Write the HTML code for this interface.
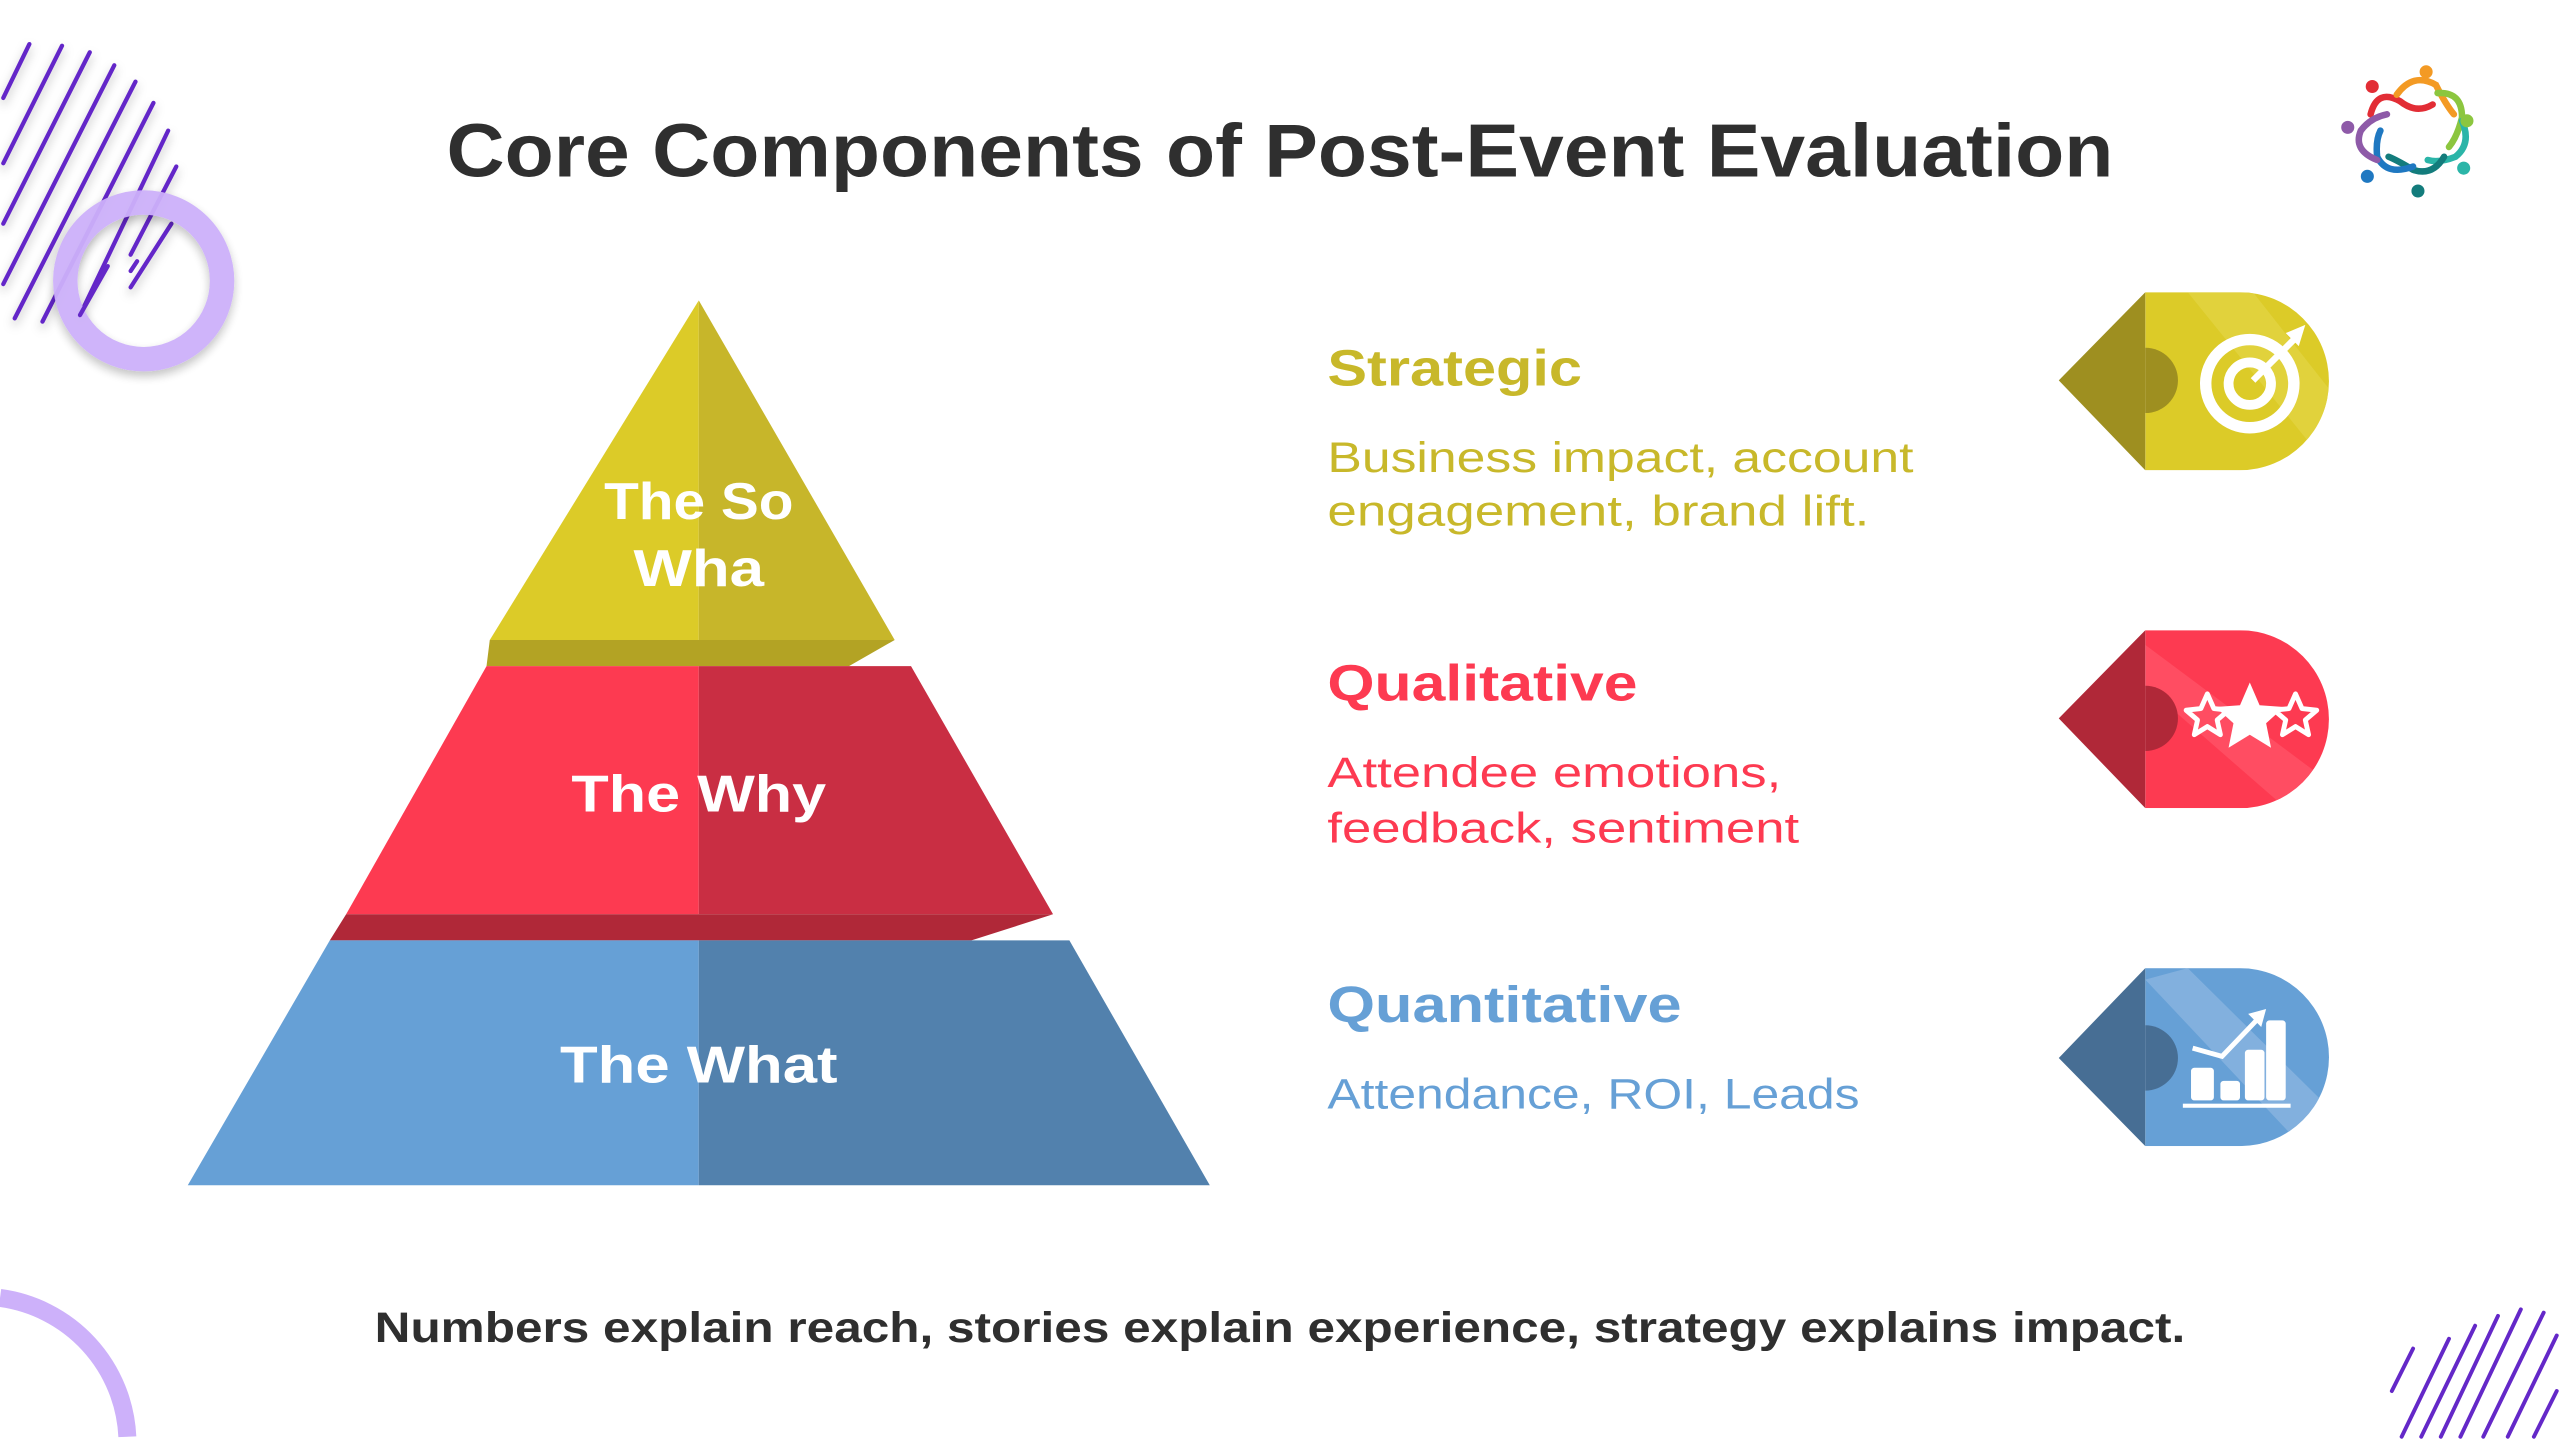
<!DOCTYPE html>
<html><head><meta charset="utf-8"><style>
html,body{margin:0;padding:0;background:#fff;width:2560px;height:1440px;overflow:hidden}
svg{display:block;overflow:hidden}
text{font-family:"Liberation Sans",sans-serif;font-weight:bold}
</style></head><body>
<svg width="2560" height="1440" viewBox="0 0 1568 882" xmlns="http://www.w3.org/2000/svg">
<defs>
<filter id="sh" x="-30%" y="-30%" width="160%" height="160%"><feDropShadow dx="0" dy="3" stdDeviation="3" flood-color="#000" flood-opacity="0.25"/></filter>
<clipPath id="cy"><path d="M1314 179 H1372 A54.5 54.5 0 0 1 1372 288 H1314 Z"/></clipPath>
<clipPath id="cr"><path d="M1314 386 H1372 A54.5 54.5 0 0 1 1372 495 H1314 Z"/></clipPath>
<clipPath id="cb"><path d="M1314 593 H1372 A54.5 54.5 0 0 1 1372 702 H1314 Z"/></clipPath>
</defs>
<!-- top-left decoration -->
<g stroke="#6428c8" stroke-width="2.6" stroke-linecap="round" filter="url(#sh)">
<line x1="18" y1="27" x2="2" y2="60"/>
<line x1="38" y1="28" x2="2" y2="100"/>
<line x1="55" y1="32" x2="2" y2="137"/>
<line x1="70" y1="40" x2="2" y2="174"/>
<line x1="83" y1="50" x2="9" y2="195"/>
<line x1="94" y1="63" x2="26" y2="197"/>
<line x1="103" y1="80" x2="49" y2="193"/>
<line x1="108" y1="102" x2="80" y2="156"/>
<line x1="105" y1="137" x2="80" y2="176"/>
</g>
<circle cx="88" cy="172" r="48" fill="none" stroke="#cdb1fa" stroke-width="15" filter="url(#sh)" opacity="0.95"/>
<g stroke="#6428c8" stroke-width="2.6" stroke-linecap="round">
<line x1="66" y1="163" x2="49" y2="193"/>
<line x1="84" y1="160" x2="80" y2="166"/>
</g>

<!-- bottom-left arc -->
<path d="M0 795 A90 90 0 0 1 78 880" fill="none" stroke="#cdb1fa" stroke-width="11"/>

<!-- bottom-right stripes -->
<g stroke="#6428c8" stroke-width="2.4" stroke-linecap="round">
<line x1="1478" y1="826" x2="1465" y2="852"/>
<line x1="1500" y1="820" x2="1471" y2="880"/>
<line x1="1516" y1="812" x2="1483" y2="880"/>
<line x1="1530" y1="806" x2="1495" y2="880"/>
<line x1="1544" y1="802" x2="1507" y2="880"/>
<line x1="1558" y1="804" x2="1521" y2="880"/>
<line x1="1566" y1="818" x2="1536" y2="880"/>
<line x1="1566" y1="852" x2="1552" y2="880"/>
</g>

<!-- logo -->
<g fill="none" stroke-width="4" stroke-linecap="round">
<path d="M1452 70 Q1456 54 1470 62 Q1480 70 1490 64" stroke="#e22d35"/>
<path d="M1468 58 Q1478 44 1492 52 Q1498 64 1503 70" stroke="#f39a24"/>
<path d="M1493 57 Q1508 56 1508 72 Q1505 84 1500 90" stroke="#8cc63f"/>
<path d="M1508 74 Q1514 88 1504 96 Q1494 100 1487 98" stroke="#2bb5a8"/>
<path d="M1497 96 Q1490 108 1478 104 Q1468 98 1463 96" stroke="#137c7c"/>
<path d="M1478 102 Q1462 108 1456 96 Q1455 86 1458 80" stroke="#1f78c1"/>
<path d="M1456 98 Q1441 92 1446 80 Q1452 72 1462 70" stroke="#8e5aa8"/>
</g>
<g>
<circle cx="1453" cy="53" r="4" fill="#e22d35"/>
<circle cx="1486" cy="44" r="4" fill="#f39a24"/>
<circle cx="1511" cy="74" r="4" fill="#8cc63f"/>
<circle cx="1509" cy="103" r="4" fill="#2bb5a8"/>
<circle cx="1481" cy="117" r="4" fill="#137c7c"/>
<circle cx="1450" cy="108" r="4" fill="#1f78c1"/>
<circle cx="1438" cy="78" r="4" fill="#8e5aa8"/>
</g>

<!-- title -->
<text x="784" y="108" text-anchor="middle" font-size="46" fill="#2f2f2f" textLength="1021" lengthAdjust="spacingAndGlyphs">Core Components of Post-Event Evaluation</text>

<!-- pyramid -->
<polygon points="428,184 428,392 300,392" fill="#dccb28"/>
<polygon points="428,184 548,392 428,392" fill="#c7b62a"/>
<polygon points="300,392 548,392 520,408 298,408" fill="#b3a324"/>
<polygon points="298,408 428,408 428,560 212,560" fill="#fd3a51"/>
<polygon points="428,408 558,408 645,560 428,560" fill="#c92e43"/>
<polygon points="212,560 645,560 595,576 202,576" fill="#b02838"/>
<polygon points="202,576 428,576 428,726 115,726" fill="#66a0d6"/>
<polygon points="428,576 655,576 741,726 428,726" fill="#5281ad"/>
<g fill="#fff" font-size="32" text-anchor="middle">
<text x="428" y="318" textLength="116" lengthAdjust="spacingAndGlyphs">The So</text>
<text x="428" y="359" textLength="80" lengthAdjust="spacingAndGlyphs">Wha</text>
<text x="428" y="497" textLength="156" lengthAdjust="spacingAndGlyphs">The Why</text>
<text x="428" y="663" textLength="170" lengthAdjust="spacingAndGlyphs">The What</text>
</g>

<!-- right texts -->
<text x="813" y="236" font-size="31" fill="#c8b82a" textLength="156" lengthAdjust="spacingAndGlyphs">Strategic</text>
<text x="813" y="289" font-size="26" style="font-weight:normal" fill="#c8b82a" textLength="359" lengthAdjust="spacingAndGlyphs">Business impact, account</text>
<text x="813" y="322" font-size="26" style="font-weight:normal" fill="#c8b82a" textLength="332" lengthAdjust="spacingAndGlyphs">engagement, brand lift.</text>
<text x="813" y="429" font-size="31" fill="#fd3a51" textLength="190" lengthAdjust="spacingAndGlyphs">Qualitative</text>
<text x="813" y="482" font-size="26" style="font-weight:normal" fill="#fd3a51" textLength="278" lengthAdjust="spacingAndGlyphs">Attendee emotions,</text>
<text x="813" y="516" font-size="26" style="font-weight:normal" fill="#fd3a51" textLength="289" lengthAdjust="spacingAndGlyphs">feedback, sentiment</text>
<text x="813" y="626" font-size="31" fill="#66a0d6" textLength="217" lengthAdjust="spacingAndGlyphs">Quantitative</text>
<text x="813" y="679" font-size="26" style="font-weight:normal" fill="#66a0d6" textLength="326" lengthAdjust="spacingAndGlyphs">Attendance, ROI, Leads</text>

<!-- icon 1 yellow -->
<polygon points="1261,233 1314,179 1314,288" fill="#9e8f20"/>
<g clip-path="url(#cy)">
<rect x="1310" y="175" width="120" height="117" fill="#dccb28"/>
<polygon points="1340,179 1380,179 1428,240 1428,288" fill="#e3d444" opacity="0.7"/>
</g>
<path d="M1314 213 A20 20 0 0 1 1314 253 Z" fill="#9e8f20"/>
<g fill="none" stroke="#fff">
<circle cx="1378" cy="235" r="27" stroke-width="7"/>
<circle cx="1378" cy="235" r="13" stroke-width="6"/>
</g>
<line x1="1380" y1="233" x2="1406" y2="207" stroke="#fff" stroke-width="4"/>
<polygon points="1412,199 1400,204 1408,212" fill="#fff"/>

<!-- icon 2 red -->
<polygon points="1261,440 1314,386 1314,495" fill="#b02838"/>
<g clip-path="url(#cr)">
<rect x="1310" y="382" width="120" height="117" fill="#fd3a51"/>
<polygon points="1314,395 1314,420 1400,495 1428,495 1428,480" fill="#ff5366" opacity="0.8"/>
</g>
<path d="M1314 420 A20 20 0 0 1 1314 460 Z" fill="#b02838"/>
<polygon points="1378,418 1384,432 1399,433 1388,443 1391,458 1378,450 1365,458 1368,443 1357,433 1372,432" fill="#fff"/>
<g fill="none" stroke="#fff" stroke-width="3" stroke-linejoin="round">
<polygon points="1352,425 1356,434 1365,435 1358,441 1360,450 1352,445 1344,450 1346,441 1339,435 1348,434"/>
<polygon points="1406,425 1410,434 1419,435 1412,441 1414,450 1406,445 1398,450 1400,441 1393,435 1402,434"/>
</g>

<!-- icon 3 blue -->
<polygon points="1261,648 1314,593 1314,702" fill="#476e94"/>
<g clip-path="url(#cb)">
<rect x="1310" y="589" width="120" height="117" fill="#66a0d6"/>
<polygon points="1314,600 1340,593 1428,680 1428,700 1410,702" fill="#89b4e0" opacity="0.8"/>
</g>
<path d="M1314 628 A20 20 0 0 1 1314 668 Z" fill="#476e94"/>
<g fill="#fff">
<rect x="1342" y="654" width="14" height="20" rx="2"/>
<rect x="1360" y="662" width="12" height="12" rx="2"/>
<rect x="1375" y="643" width="12" height="31" rx="2"/>
<rect x="1388" y="625" width="12" height="49" rx="2"/>
<rect x="1337" y="676" width="66" height="2.5"/>
</g>
<polyline points="1343,642 1361,647 1383,624" fill="none" stroke="#fff" stroke-width="3"/>
<polygon points="1388,618 1377,621 1385,629" fill="#fff"/>

<!-- footer -->
<text x="784" y="822" text-anchor="middle" font-size="26" fill="#2f2f2f" textLength="1109" lengthAdjust="spacingAndGlyphs">Numbers explain reach, stories explain experience, strategy explains impact.</text>
</svg>
</body></html>
